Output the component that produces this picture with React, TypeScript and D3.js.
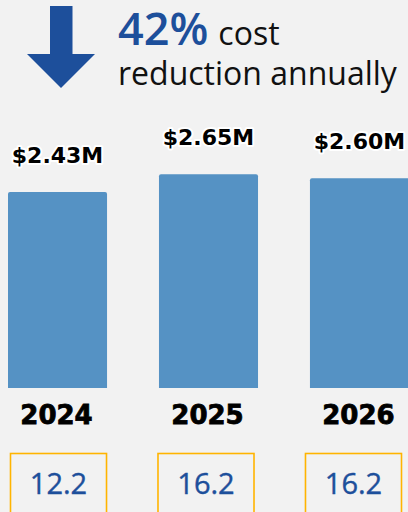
import React from 'react';
import * as d3 from 'd3';

const years = ['2024', '2025', '2026'];
const costs = [2.43, 2.65, 2.6];
const costLabels = ['$2.43M', '$2.65M', '$2.60M'];
const scores = ['12.2', '16.2', '16.2'];

const W = 408;
const H = 512;
const BLUE = '#1d4f9b';

const App = () => {
  // bars
  const x = d3.scaleBand<string>().domain(years).range([8, 409]).paddingInner(0.344).paddingOuter(0);
  const y = d3.scaleLinear().domain([0, 1]).range([388, 307.3]);
  // boxes below
  const xBox = d3.scaleBand<string>().domain(years).range([10.5, 401.5]).paddingInner(0.349).paddingOuter(0);

  const arrow = d3.path();
  arrow.moveTo(50, 6);
  arrow.lineTo(72.5, 6);
  arrow.lineTo(72.5, 54);
  arrow.lineTo(95, 54);
  arrow.lineTo(61, 88);
  arrow.lineTo(27, 54);
  arrow.lineTo(50, 54);
  arrow.closePath();

  return (
    <svg width={W} height={H} style={{ position: 'absolute', left: 0, top: 0, background: '#f2f2f2' }}>
      <rect width={W} height={H} fill="#f2f2f2" />
      <path d={arrow.toString()} fill={BLUE} />
      <text x={118} y={45} fontFamily="'Open Sans'" fill="#111">
        <tspan fontSize={45} fontWeight={600} fill={BLUE}>42%</tspan>
        <tspan fontSize={32} dx={10}>cost</tspan>
      </text>
      <text x={118} y={85} fontFamily="'Open Sans'" fontSize={32} fill="#111">reduction annually</text>

      {years.map((yr, i) => {
        const bx = x(yr) as number;
        const top = y(costs[i]);
        const h = y(0) - top;
        const r = 2;
        const p = d3.path();
        p.moveTo(bx, top + h);
        p.lineTo(bx, top + r);
        p.arcTo(bx, top, bx + r, top, r);
        p.lineTo(bx + x.bandwidth() - r, top);
        p.arcTo(bx + x.bandwidth(), top, bx + x.bandwidth(), top + r, r);
        p.lineTo(bx + x.bandwidth(), top + h);
        p.closePath();
        const cx = bx + x.bandwidth() / 2;
        return (
          <g key={yr}>
            <path d={p.toString()} fill="#5592c4" />
            <text x={cx} y={top - 29} textAnchor="middle" fontFamily="'DejaVu Sans'" fontWeight="bold" fontSize={22}
              fill="#000" stroke="#fff" strokeWidth={4} strokeLinejoin="round" paintOrder="stroke">{costLabels[i]}</text>
            <text x={cx - 1} y={424} textAnchor="middle" fontFamily="'DejaVu Sans'" fontWeight="bold" fontSize={26}
              fill="#000" stroke="#000" strokeWidth={0.8}>{yr}</text>
          </g>
        );
      })}

      {years.map((yr, i) => {
        const bx = xBox(yr) as number;
        return (
          <g key={'b' + yr}>
            <rect x={bx} y={453.5} width={xBox.bandwidth()} height={80} fill="none" stroke="#ffb400" strokeWidth={1.6} />
            <text x={bx + xBox.bandwidth() / 2} y={494} textAnchor="middle" fontFamily="'Open Sans'" fontSize={29}
              fill={BLUE} stroke={BLUE} strokeWidth={0.4}>{scores[i]}</text>
          </g>
        );
      })}
    </svg>
  );
};

export default App;
